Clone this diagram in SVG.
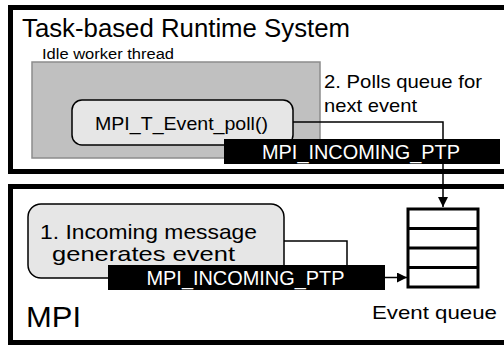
<svg xmlns="http://www.w3.org/2000/svg" width="504" height="345" viewBox="0 0 504 345">
<defs>
<marker id="arr" viewBox="0 0 10 10" refX="10" refY="5" markerWidth="10" markerHeight="10" markerUnits="userSpaceOnUse" orient="auto">
<path d="M0,0 L10,5 L0,10 z" fill="#000"/>
</marker>
<style>
text{font-family:"Liberation Sans",Arial,sans-serif;fill:#000}
.frame{fill:#fff;stroke:#000;stroke-width:5}
.round{fill:#e6e6e6;stroke:#000;stroke-width:1.5}
.bar{fill:#000}
.bartxt{fill:#fff;font-size:20px}
.conn{fill:none;stroke:#000;stroke-width:1.5}
.q{fill:#fff;stroke:#000;stroke-width:3}
</style>
</defs>
<rect width="504" height="345" fill="#fff"/>
<g id="runtime">
<rect class="frame" x="10.5" y="7.5" width="510" height="164"/>
<text x="22" y="37" font-size="25" textLength="328" lengthAdjust="spacingAndGlyphs">Task-based Runtime System</text>
</g>
<g id="mpi">
<rect class="frame" x="10.5" y="186.5" width="510" height="156"/>
<text x="26" y="327" font-size="30" textLength="55" lengthAdjust="spacingAndGlyphs">MPI</text>
</g>
<g id="idle-thread">
<text x="42" y="59" font-size="14" textLength="132" lengthAdjust="spacingAndGlyphs">Idle worker thread</text>
<rect x="32" y="62" width="288" height="96" fill="#c0c0c0" stroke="#8c8c8c" stroke-width="1.5"/>
</g>
<g id="connectors">
<path class="conn" d="M293,122 H443 V207" marker-end="url(#arr)"/>
<path class="conn" d="M284,241 H347 V266"/>
<path class="conn" d="M385,277.5 H407" marker-end="url(#arr)"/>
</g>
<g id="poll">
<rect class="round" x="72" y="100" width="221" height="45" rx="10"/>
<text x="95" y="130" font-size="19" textLength="173" lengthAdjust="spacingAndGlyphs">MPI_T_Event_poll()</text>
</g>
<g id="poll-label">
<text x="324" y="88" font-size="19" textLength="158" lengthAdjust="spacingAndGlyphs">2. Polls queue for</text>
<text x="324" y="111.5" font-size="19" textLength="93" lengthAdjust="spacingAndGlyphs">next event</text>
</g>
<g id="event-top">
<rect class="bar" x="224" y="139" width="276" height="25"/>
<text class="bartxt" x="262" y="159" textLength="198" lengthAdjust="spacingAndGlyphs">MPI_INCOMING_PTP</text>
</g>
<g id="incoming">
<rect class="round" x="28" y="204" width="256" height="74" rx="13"/>
<text x="40" y="239" font-size="21" textLength="217" lengthAdjust="spacingAndGlyphs">1. Incoming message</text>
<text x="52" y="261" font-size="21" textLength="183" lengthAdjust="spacingAndGlyphs">generates event</text>
</g>
<g id="event-bottom">
<rect class="bar" x="108" y="265" width="277" height="25"/>
<text class="bartxt" x="146.5" y="285" textLength="198" lengthAdjust="spacingAndGlyphs">MPI_INCOMING_PTP</text>
</g>
<g id="queue">
<rect class="q" x="408" y="209" width="70" height="78"/>
<line class="q" x1="408" y1="228.5" x2="478" y2="228.5"/>
<line class="q" x1="408" y1="248" x2="478" y2="248"/>
<line class="q" x1="408" y1="267.5" x2="478" y2="267.5"/>
<text x="372" y="319" font-size="19" textLength="125" lengthAdjust="spacingAndGlyphs">Event queue</text>
</g>
</svg>
